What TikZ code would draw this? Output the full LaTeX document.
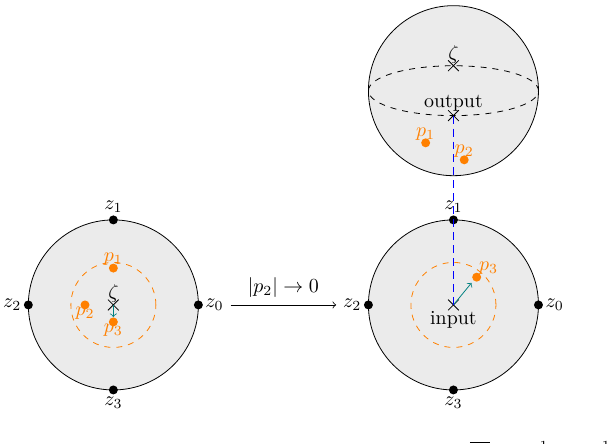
\documentclass[tikz,border=0pt]{standalone}
\usepackage{amsmath,amssymb}
\usetikzlibrary{shapes.misc}

\begin{document}
\begin{tikzpicture}[
  disk/.style={draw, fill=black!8},
  ptdot/.style={circle, fill, inner sep=0pt, minimum size=4.5pt},
  xmark/.style={cross out, draw, inner sep=0pt, minimum size=5pt},
  orbit/.style={draw=orange, dashed},
  plabel/.style={text=orange, inner sep=1pt},
  tight/.style={inner sep=1pt}]
\useasboundingbox (-2,-2.45) rectangle (8.78,5.38);
% left disk
\draw[disk] (0,0) circle (1.5);
\draw[orbit] (0,0) circle (0.75);
\node[ptdot] (l1) at (0,1.5) {};
\node[ptdot] (l2) at (-1.5,0) {};
\node[ptdot] (l3) at (0,-1.5) {};
\node[ptdot] (l0) at (1.5,0) {};
\node[above] (lz1) at (l1) {$z_1$};
\node[left] (lz2) at (l2) {$z_2$};
\node[below] (lz3) at (l3) {$z_3$};
\node[right] (lz0) at (l0) {$z_0$};
\node[xmark] (lzeta) at (0,0) {};
\node[tight, above] at (lzeta) {$\zeta$};
\node[ptdot, orange] (lp1) at (0,0.65) {};
\node[ptdot, orange] (lp2) at (-0.5,0) {};
\node[ptdot, orange] (lp3) at (0,-0.3) {};
\node[plabel, above] at (lp1) {$p_1$};
\node[plabel, below] at (lp2) {$p_2$};
\node[plabel, below] at (lp3) {$p_3$};
\draw[->, teal] (lzeta.center) -- (lp3);
% right disk
\draw[disk] (6,0) circle (1.5);
\draw[orbit] (6,0) circle (0.75);
\node[ptdot] (r1) at (6,1.5) {};
\node[ptdot] (r2) at (4.5,0) {};
\node[ptdot] (r3) at (6,-1.5) {};
\node[ptdot] (r0) at (7.5,0) {};
\node[above] (rz1) at (r1) {$z_1$};
\node[left] (rz2) at (r2) {$z_2$};
\node[below] (rz3) at (r3) {$z_3$};
\node[right] (rz0) at (r0) {$z_0$};
\node[xmark] (input) at (6,0) {};
\node[tight, below=2pt] at (input) {input};
\node[ptdot, orange] (rp3) at (6.41,0.49) {};
\node[plabel, above right] at (rp3) {$p_3$};
\coordinate (rtip) at (6.32,0.39);
\draw[->, teal] (input.center) -- (rtip);
% sphere
\draw[disk] (6,3.78) circle (1.5);
\draw[dashed] (6,3.78) ellipse (1.5 and 0.44);
\node[xmark] (szeta) at (6,4.22) {};
\node[tight, above] at (szeta) {$\zeta$};
\node[xmark] (output) at (6,3.34) {};
\node[tight, above=1pt] at (output) {output};
\node[ptdot, orange] (sp1) at (5.51,2.86) {};
\node[ptdot, orange] (sp2) at (6.19,2.56) {};
\node[plabel, above] at (sp1) {$p_1$};
\node[plabel, above] at (sp2) {$p_2$};
\draw[draw=blue, dash pattern=on 4pt off 2.5pt, line width=0.6pt] (output.center) -- (input.center);
% limit arrow
\draw[->] (lz0) -- node[above] {$|p_2|\to 0$} (rz2);
% cut-off bottom
\node[inner sep=0pt, anchor=north] (c1) at (6.47,-2.405) {$\overline{\phantom{zz}}$};
\node[inner sep=0pt, anchor=north] (c2) at (7.4,-2.405) {$\overline{\phantom{z}}^{-1}$};
\node[inner sep=0pt, anchor=north] (c3) at (8.5,-2.405) {$\overline{\phantom{z}}^{-1}$};
\end{tikzpicture}
\end{document}
